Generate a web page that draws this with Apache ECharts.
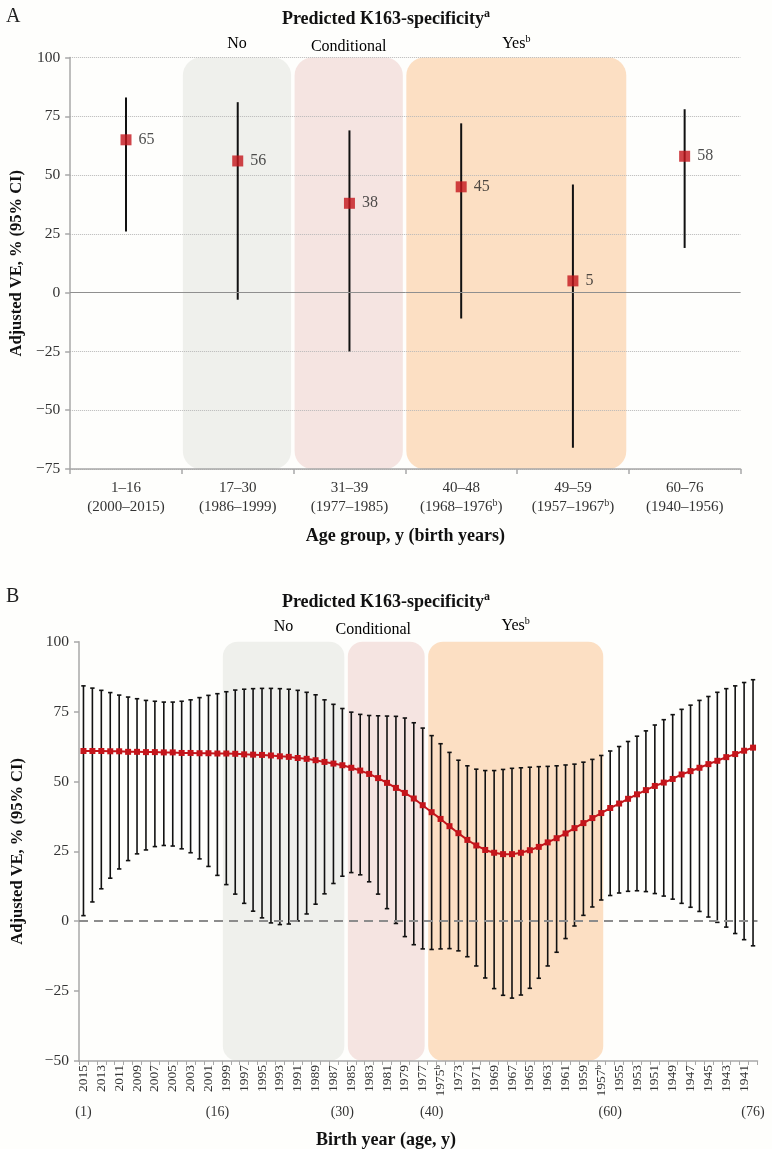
<!DOCTYPE html>
<html><head><meta charset="utf-8">
<script src="https://cdn.jsdelivr.net/npm/echarts@6/dist/echarts.min.js"></script>
<style>html,body{margin:0;padding:0;background:#fefefc;}#c{width:772px;height:1149px;}</style>
</head><body><div id="c"></div>
<script>
const FONT = '"Liberation Serif", "DejaVu Serif", serif';

// ---------- Panel A data ----------
const groupsA = ['1–16', '17–30', '31–39', '40–48', '49–59', '60–76'];
const birthRangesA = ['2000–2015', '1986–1999', '1977–1985', '1968–1976', '1957–1967', '1940–1956'];
const birthNotesA = ['', '', '', 'b', 'b', ''];
const veA = [65, 56, 38, 45, 5, 58];
const loA = [26, -3, -25, -11, -66, 19];
const hiA = [83, 81, 69, 72, 46, 78];

// ---------- Specificity bands ----------
const bandNames = ['No', 'Conditional', 'Yes'];
const bandNotes = ['', '', 'b'];
const bandGroupsA = [['17–30', '17–30'], ['31–39', '31–39'], ['40–48', '49–59']];
const bandYearsB = [[1999, 1986], [1985, 1977], [1976, 1957]];

// ---------- Panel B data ----------
const yearsB = [2015, 2014, 2013, 2012, 2011, 2010, 2009, 2008, 2007, 2006, 2005, 2004, 2003, 2002, 2001, 2000,
  1999, 1998, 1997, 1996, 1995, 1994, 1993, 1992, 1991, 1990, 1989, 1988, 1987, 1986, 1985, 1984, 1983, 1982,
  1981, 1980, 1979, 1978, 1977, 1976, 1975, 1974, 1973, 1972, 1971, 1970, 1969, 1968, 1967, 1966, 1965, 1964,
  1963, 1962, 1961, 1960, 1959, 1958, 1957, 1956, 1955, 1954, 1953, 1952, 1951, 1950, 1949, 1948, 1947, 1946,
  1945, 1944, 1943, 1942, 1941, 1940];
const yearNotesB = { 1975: 'b', 1957: 'b' };
const ageLabelsB = { 2015: '(1)', 2000: '(16)', 1986: '(30)', 1976: '(40)', 1956: '(60)', 1940: '(76)' };
const veB = [60.9, 60.9, 60.9, 60.8, 60.8, 60.6, 60.6, 60.5, 60.5, 60.4, 60.4, 60.2, 60.2, 60.1, 60.1, 60.0,
  60.0, 59.9, 59.7, 59.6, 59.5, 59.3, 59.0, 58.8, 58.4, 58.1, 57.6, 57.0, 56.4, 55.8, 54.9, 53.9, 52.7, 51.2,
  49.5, 47.7, 45.9, 43.9, 41.5, 39.0, 36.6, 34.0, 31.5, 29.1, 27.1, 25.5, 24.5, 24.0, 24.0, 24.5, 25.4, 26.6,
  28.2, 29.7, 31.4, 33.3, 35.1, 36.9, 38.7, 40.5, 42.1, 43.8, 45.4, 46.9, 48.4, 49.6, 50.9, 52.5, 53.7, 54.9,
  56.2, 57.4, 58.7, 59.8, 61.0, 62.1];
const hiB = [84.2, 83.4, 82.6, 81.8, 80.9, 80.2, 79.6, 79.0, 78.7, 78.4, 78.4, 78.7, 79.2, 80.0, 80.8, 81.4,
  82.1, 82.7, 83.0, 83.2, 83.3, 83.3, 83.2, 83.0, 82.6, 81.9, 81.0, 79.2, 77.6, 76.1, 74.8, 74.0, 73.6, 73.5,
  73.4, 73.3, 72.7, 71.0, 69.1, 66.4, 63.5, 60.4, 57.6, 55.6, 54.4, 53.9, 53.9, 54.3, 54.7, 54.9, 55.1, 55.3,
  55.4, 55.6, 55.9, 56.2, 56.9, 57.9, 59.3, 60.9, 62.5, 64.3, 66.2, 68.1, 70.2, 72.1, 73.9, 75.8, 77.3, 79.0,
  80.4, 81.9, 83.2, 84.2, 85.4, 86.4];
const loB = [2.0, 6.9, 11.6, 15.4, 18.7, 21.7, 24.1, 25.5, 26.7, 27.1, 26.9, 25.9, 24.5, 22.3, 19.6, 16.4,
  13.1, 9.7, 6.4, 3.6, 1.2, -0.6, -1.2, -1.0, 0.1, 2.6, 6.1, 9.8, 13.5, 16.1, 17.4, 16.6, 14.1, 9.7,
  4.5, -0.8, -5.5, -8.4, -9.9, -10.1, -9.9, -9.8, -10.6, -12.7, -16.0, -20.3, -24.1, -26.5, -27.5, -26.4, -24.0, -20.4,
  -16.0, -11.1, -6.2, -1.7, 2.1, 5.1, 7.6, 9.2, 10.1, 10.7, 10.9, 10.6, 9.9, 9.0, 7.9, 6.4, 5.0, 3.5,
  1.5, -0.4, -2.1, -4.4, -6.6, -8.8];

// ---------- Styles ----------
const bandColors = ['#eff0ec', '#f5e4e1', '#fcdfc3'];
const RED = '#c4151b';
const AXIS = '#a8a8a8';
const LABEL = '#333';
const yRangeA = [-75, 100];
const yRangeB = [-50, 100];

const fmtY = v => (v < 0 ? '−' + (-v) : String(v));
const supRich = (size, lh) => ({
  n: { fontFamily: FONT, fontSize: size, color: '#222', lineHeight: lh },
  s: { fontFamily: FONT, fontSize: Math.round(size * 0.65), color: '#222', verticalAlign: 'top', lineHeight: Math.round(lh * 0.5) }
});
const titleRich = {
  t: { fontFamily: FONT, fontSize: 18, fontWeight: 'bold', color: '#111', lineHeight: 22 },
  s: { fontFamily: FONT, fontSize: 12, fontWeight: 'bold', color: '#111', verticalAlign: 'top', lineHeight: 11 }
};
const axisNameStyle = { fontFamily: FONT, fontSize: 18, fontWeight: 'bold', color: '#111' };

function bandRenderer(yMin, yMax, radius, labelGaps, shifts) {
  return function (params, api) {
    const s = api.value(0), e = api.value(1), k = api.value(2);
    const bw = api.size([1, 0])[0];
    const pTop = api.coord([s, yMax]);
    const pBot = api.coord([e, yMin]);
    const x0 = pTop[0] - bw / 2 + 1;
    const x1 = pBot[0] + bw / 2 - 2.5;
    const note = bandNotes[k];
    return {
      type: 'group',
      children: [
        { type: 'rect', shape: { x: x0, y: pTop[1], width: x1 - x0, height: pBot[1] - pTop[1], r: radius },
          style: { fill: bandColors[k] } },
        { type: 'text', x: (x0 + x1) / 2 + shifts[k], y: pTop[1] - labelGaps[k],
          style: { text: '{n|' + bandNames[k] + '}' + (note ? '{s|' + note + '}' : ''),
                   rich: supRich(16, 18), align: 'center', verticalAlign: 'middle' } }
      ]
    };
  };
}

const chart = echarts.init(document.getElementById('c'), null, { renderer: 'canvas' });
chart.setOption({
  backgroundColor: '#fefefc',
  animation: false,
  title: [
    { text: 'A', left: 1, top: 2, textStyle: { fontFamily: FONT, fontSize: 20, fontWeight: 'normal', color: '#222' } },
    { text: '{t|Predicted K163-specificity}{s|a}', left: 'center', top: 3, textStyle: { rich: titleRich } },
    { text: 'B', left: 1, top: 582, textStyle: { fontFamily: FONT, fontSize: 20, fontWeight: 'normal', color: '#222' } },
    { text: '{t|Predicted K163-specificity}{s|a}', left: 'center', top: 586, textStyle: { rich: titleRich } },
    { text: 'Birth year (age, y)', left: 'center', top: 1126, textStyle: axisNameStyle }
  ],
  grid: [
    { left: 70, right: 31.5, top: 57.5, height: 411.5 },
    { left: 79, right: 14.5, top: 641.7, height: 419.3 }
  ],
  xAxis: [
    { type: 'category', gridIndex: 0, data: groupsA, boundaryGap: true, z: 2,
      axisLine: { onZero: false, lineStyle: { color: AXIS, width: 1.5 } },
      axisTick: { show: true, length: 5, lineStyle: { color: AXIS, width: 1.5 } },
      axisLabel: { margin: 10, interval: 0,
        formatter: (v, i) => '{n|' + v + '}\n{n|(' + birthRangesA[i] + '}' + (birthNotesA[i] ? '{s|' + birthNotesA[i] + '}' : '') + '{n|)}',
        rich: { n: { fontFamily: FONT, fontSize: 15, color: LABEL, lineHeight: 19 },
                s: { fontFamily: FONT, fontSize: 10, color: LABEL, verticalAlign: 'top', lineHeight: 9 } } },
      name: 'Age group, y (birth years)', nameLocation: 'middle', nameGap: 58,
      nameTextStyle: axisNameStyle,
      splitLine: { show: false } },
    { type: 'category', gridIndex: 1, data: yearsB.map(String), boundaryGap: true, position: 'bottom', z: 2,
      axisLine: { onZero: false, lineStyle: { color: AXIS, width: 1.5 } },
      axisTick: { show: true, interval: 0, length: 4, lineStyle: { color: AXIS, width: 1 } },
      axisLabel: { interval: 1, rotate: 90, margin: 4,
        formatter: v => '{n|' + v + '}' + (yearNotesB[v] ? '{s|' + yearNotesB[v] + '}' : ''),
        rich: { n: { fontFamily: FONT, fontSize: 13.5, color: LABEL, lineHeight: 14 },
                s: { fontFamily: FONT, fontSize: 9, color: LABEL, verticalAlign: 'top', lineHeight: 7 } } },
      splitLine: { show: false } },
    { type: 'category', gridIndex: 1, data: yearsB.map(String), boundaryGap: true, position: 'bottom', offset: 0,
      axisLine: { show: false, onZero: false }, axisTick: { show: false },
      axisLabel: { interval: 0, margin: 44, formatter: v => ageLabelsB[v] || '',
        fontFamily: FONT, fontSize: 14, color: LABEL },
      splitLine: { show: false } }
  ],
  yAxis: [
    { type: 'value', gridIndex: 0, min: yRangeA[0], max: yRangeA[1], interval: 25, z: 2,
      axisLine: { show: true, onZero: false, lineStyle: { color: AXIS, width: 1.5 } },
      axisTick: { show: true, length: 5, lineStyle: { color: AXIS, width: 1.5 } },
      axisLabel: { formatter: fmtY, margin: 10, fontFamily: FONT, fontSize: 15.5, color: LABEL },
      splitLine: { show: true, lineStyle: { color: '#b8b8b8', type: 'dotted', width: 1 } },
      name: 'Adjusted VE, % (95% CI)', nameLocation: 'middle', nameGap: 44,
      nameTextStyle: Object.assign({}, axisNameStyle, { fontSize: 16.5 }) },
    { type: 'value', gridIndex: 1, min: yRangeB[0], max: yRangeB[1], interval: 25, z: 2,
      axisLine: { show: true, onZero: false, lineStyle: { color: AXIS, width: 1.5 } },
      axisTick: { show: true, length: 5, lineStyle: { color: AXIS, width: 1.5 } },
      axisLabel: { formatter: fmtY, margin: 10, fontFamily: FONT, fontSize: 15.5, color: LABEL },
      splitLine: { show: false },
      name: 'Adjusted VE, % (95% CI)', nameLocation: 'middle', nameGap: 53,
      nameTextStyle: Object.assign({}, axisNameStyle, { fontSize: 16.5 }) }
  ],
  series: [
    // Panel A bands
    { type: 'custom', xAxisIndex: 0, yAxisIndex: 0, z: 1, clip: false, silent: true,
      renderItem: bandRenderer(yRangeA[0], yRangeA[1], 18, [14, 11, 14], [0, 0, 0]),
      encode: { x: [0, 1] },
      data: bandGroupsA.map((g, k) => [groupsA.indexOf(g[0]), groupsA.indexOf(g[1]), k]) },
    // Panel A CIs
    { type: 'custom', xAxisIndex: 0, yAxisIndex: 0, z: 3, silent: true,
      renderItem: (p, api) => {
        const a = api.coord([api.value(0), api.value(1)]);
        const b = api.coord([api.value(0), api.value(2)]);
        return { type: 'line', shape: { x1: a[0], y1: a[1], x2: b[0], y2: b[1] }, style: { stroke: '#111', lineWidth: 2 } };
      },
      encode: { x: 0, y: [1, 2] },
      data: groupsA.map((g, i) => [i, loA[i], hiA[i]]) },
    // Panel A points
    { type: 'scatter', xAxisIndex: 0, yAxisIndex: 0, z: 4, symbol: 'rect', symbolSize: 11,
      itemStyle: { color: RED },
      label: { show: true, position: 'right', distance: 7, fontFamily: FONT, fontSize: 16, color: '#222' },
      data: veA,
      markLine: { silent: true, symbol: 'none', label: { show: false },
        lineStyle: { color: '#8f8f8f', type: 'solid', width: 1 }, data: [{ yAxis: 0 }] } },
    // Panel B bands
    { type: 'custom', xAxisIndex: 1, yAxisIndex: 1, z: 1, clip: false, silent: true,
      renderItem: bandRenderer(yRangeB[0], yRangeB[1], 15, [15, 12, 16], [0, -13, 0]),
      encode: { x: [0, 1] },
      data: bandYearsB.map((b, k) => [yearsB.indexOf(b[0]), yearsB.indexOf(b[1]), k]) },
    // Panel B CIs with caps
    { type: 'custom', xAxisIndex: 1, yAxisIndex: 1, z: 3, silent: true,
      renderItem: (p, api) => {
        const a = api.coord([api.value(0), api.value(1)]);
        const b = api.coord([api.value(0), api.value(2)]);
        const c = 2.2;
        const st = { stroke: '#111', lineWidth: 1.6 };
        return { type: 'group', children: [
          { type: 'line', shape: { x1: a[0], y1: a[1], x2: b[0], y2: b[1] }, style: st },
          { type: 'line', shape: { x1: a[0] - c, y1: a[1], x2: a[0] + c, y2: a[1] }, style: st },
          { type: 'line', shape: { x1: b[0] - c, y1: b[1], x2: b[0] + c, y2: b[1] }, style: st }
        ] };
      },
      encode: { x: 0, y: [1, 2] },
      data: yearsB.map((y, i) => [i, loB[i], hiB[i]]) },
    // Panel B estimates
    { type: 'line', xAxisIndex: 1, yAxisIndex: 1, z: 5, data: veB,
      symbol: 'rect', symbolSize: 6, showSymbol: true, showAllSymbol: true,
      lineStyle: { color: RED, width: 2 }, itemStyle: { color: RED },
      markLine: { silent: true, symbol: 'none', label: { show: false },
        lineStyle: { color: '#8c8c8c', type: [9, 6], width: 2 }, data: [{ yAxis: 0 }] } }
  ]
});
</script></body></html>
